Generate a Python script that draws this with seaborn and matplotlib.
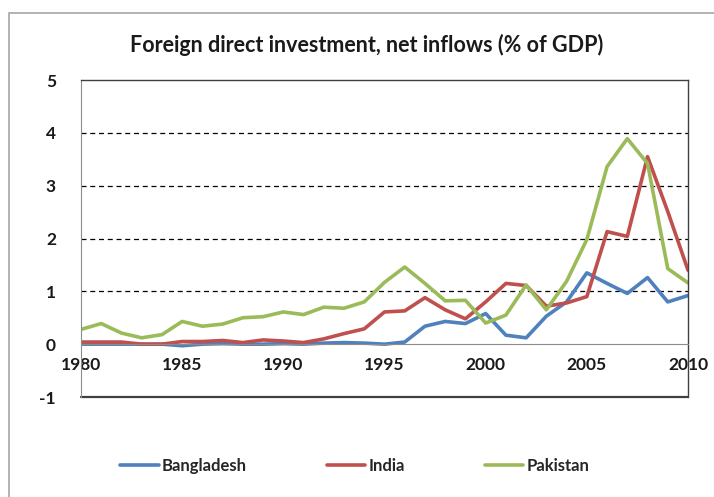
import numpy as np
import pandas as pd
import matplotlib
matplotlib.use("Agg")
import matplotlib.pyplot as plt
from matplotlib.patches import Rectangle
import seaborn as sns

# Values (% of GDP)
years = list(range(1980, 2011))
bangladesh = [0.00, 0.00, 0.00, 0.00, 0.00, -0.03, 0.00, 0.01, 0.00, 0.00,
              0.01, 0.00, 0.02, 0.03, 0.02, 0.00, 0.04, 0.34, 0.43, 0.39,
              0.58, 0.17, 0.12, 0.53, 0.80, 1.35, 1.15, 0.96, 1.26, 0.80, 0.92]
india = [0.04, 0.04, 0.04, 0.00, 0.00, 0.05, 0.05, 0.07, 0.03, 0.08,
         0.06, 0.03, 0.10, 0.20, 0.29, 0.61, 0.63, 0.88, 0.65, 0.48,
         0.80, 1.15, 1.11, 0.72, 0.78, 0.90, 2.13, 2.04, 3.55, 2.51, 1.40]
pakistan = [0.28, 0.39, 0.21, 0.12, 0.18, 0.43, 0.34, 0.38, 0.50, 0.52,
            0.61, 0.56, 0.70, 0.68, 0.80, 1.17, 1.46, 1.15, 0.82, 0.83,
            0.40, 0.55, 1.12, 0.65, 1.19, 1.98, 3.36, 3.89, 3.42, 1.43, 1.16]
countries = ["Bangladesh", "India", "Pakistan"]
colors = ["#4F81BD", "#C0504D", "#9BBB59"]
title = "Foreign direct investment, net inflows (% of GDP)"

df = pd.DataFrame({"Year": years, "Bangladesh": bangladesh,
                   "India": india, "Pakistan": pakistan})
long_df = df.melt(id_vars="Year", var_name="Country", value_name="FDI")

sns.set_style("white")
plt.rcParams["font.family"] = ["Lato", "DejaVu Sans"]
plt.rcParams["axes.unicode_minus"] = False

fig = plt.figure(figsize=(7.14, 4.97), dpi=100)
ax = fig.add_axes([81 / 714, 1 - 397 / 497, 607 / 714, 317 / 497])

sns.lineplot(data=long_df, x="Year", y="FDI", hue="Country",
             palette=dict(zip(countries, colors)), linewidth=2.6,
             legend=False, ax=ax)

ax.set_xlim(1980, 2010)
ax.set_ylim(-1, 5)
ax.set_xlabel("")
ax.set_ylabel("")

# dashed gridlines
for v in [1, 2, 3, 4]:
    ax.axhline(v, color="black", lw=0.9, ls=(0, (4, 3)), zorder=0)

# x axis crosses at zero
ax.spines["bottom"].set_position(("data", 0))
ax.spines["bottom"].set_color("#8c8c8c")
ax.spines["left"].set_color("#8c8c8c")
for s in ["top", "right"]:
    ax.spines[s].set_visible(True)
    ax.spines[s].set_color("#404040")
    ax.spines[s].set_linewidth(1.0)
ax.axhline(-1, color="#404040", lw=1.6, clip_on=False)

ax.set_xticks(range(1980, 2011, 5))
ax.set_xticks(years, minor=True)
ax.set_yticks(range(-1, 6))
ax.tick_params(axis="x", which="both", direction="out", length=6,
               color="#8c8c8c", labelsize=12.5, pad=3)
ax.tick_params(axis="y", direction="out", length=6, color="#8c8c8c",
               labelsize=12.5, pad=12)
for lab in ax.get_xticklabels() + ax.get_yticklabels():
    lab.set_fontweight("bold")
    lab.set_color("#1a1a1a")

fig.text(367 / 714, 1 - 45 / 497, title, ha="center", va="center",
         fontsize=15.5, fontweight="bold", color="#1a1a1a")

handles = [plt.Line2D([], [], color=c, lw=2.6) for c in colors]
leg = fig.legend(handles, countries, loc="center", ncol=3,
                 bbox_to_anchor=(355 / 714, 1 - 466 / 497), frameon=False,
                 handlelength=2.3, handletextpad=0.2, columnspacing=4.8,
                 prop={"size": 12, "weight": "bold"})

# outer chart border
fig.patches.append(Rectangle((9 / 714, -0.1), 2, 1 - 13 / 497 + 0.1,
                             transform=fig.transFigure, fill=False,
                             edgecolor="#a6a6a6", lw=1.2))

fig.savefig("out.png", dpi=100)
